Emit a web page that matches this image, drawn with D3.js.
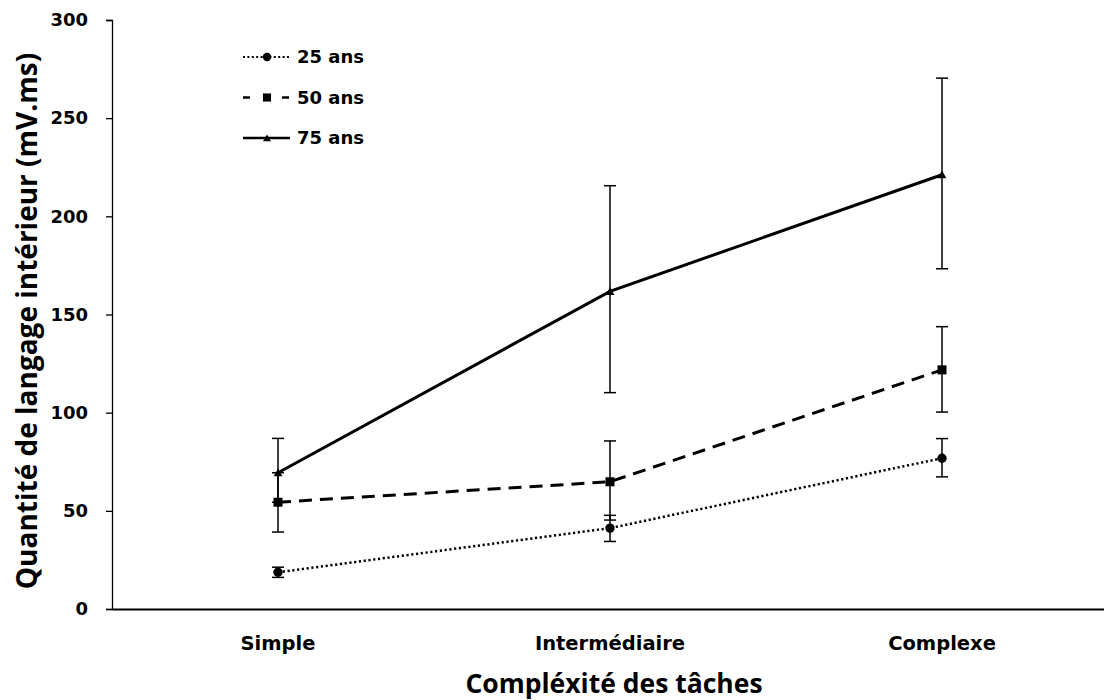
<!DOCTYPE html>
<html>
<head>
<meta charset="utf-8">
<script src="https://cdn.jsdelivr.net/npm/d3@7"></script>
<style>
  body { margin: 0; background: #fff; }
  svg text { font-family: "DejaVu Sans", sans-serif; font-weight: bold; fill: #000; }
</style>
</head>
<body>
<div id="chart"></div>
<script>
// data
var categories = ["Simple", "Intermédiaire", "Complexe"];
var seriesNames = ["25 ans", "50 ans", "75 ans"];
var mean25 = [18.7, 41.2, 76.8];
var mean50 = [54.4, 64.8, 121.8];
var mean75 = [69.4, 161.8, 221.2];
var errUp25 = [2.6, 6.5, 10.0];
var errDown25 = [2.6, 6.8, 9.5];
var errUp50 = [15.0, 20.8, 22.0];
var errDown50 = [15.2, 19.5, 21.5];
var errUp75 = [17.5, 53.8, 49.2];
var errDown75 = [15.0, 51.6, 47.9];
var yTicks = [0, 50, 100, 150, 200, 250, 300];

var series = [
  { name: seriesNames[0], mean: mean25, up: errUp25, down: errDown25, dash: "2.2,2.6", legendDash: "2,2.4", width: 2.5, marker: "circle" },
  { name: seriesNames[1], mean: mean50, up: errUp50, down: errDown50, dash: "13,8", legendDash: "7,32", width: 3, marker: "square" },
  { name: seriesNames[2], mean: mean75, up: errUp75, down: errDown75, dash: null, legendDash: null, width: 3, marker: "triangle" }
];

var margin = { top: 20, right: -4, bottom: 91, left: 112 };
var fullW = 1104, fullH = 700;
var width = fullW - margin.left - margin.right;
var height = fullH - margin.top - margin.bottom;

var svg = d3.select("#chart").append("svg")
  .attr("width", fullW)
  .attr("height", fullH)
  .append("g")
  .attr("transform", "translate(" + margin.left + "," + margin.top + ")");

var x = d3.scaleBand().domain(categories).range([0, width]);
var y = d3.scaleLinear().domain([0, 300]).range([height, 0]);

// y axis
var yAxis = d3.axisLeft(y).tickValues(yTicks).tickSize(6).tickPadding(18);
var gy = svg.append("g").attr("class", "y-axis").call(yAxis);
gy.attr("font-size", null).attr("font-family", null);
gy.select(".domain").attr("stroke", "#000").attr("stroke-width", 1.3);
gy.selectAll(".tick line").attr("stroke", "#000").attr("stroke-width", 1.3);
gy.selectAll("text").style("font-size", "18px");

// x axis
var xAxis = d3.axisBottom(x).tickSize(0).tickPadding(27);
var gx = svg.append("g").attr("class", "x-axis")
  .attr("transform", "translate(0," + height + ")")
  .call(xAxis);
gx.attr("font-size", null).attr("font-family", null);
gx.select(".domain").attr("stroke", "#000").attr("stroke-width", 2);
gx.selectAll("text").style("font-size", "19.5px");

function cx(i) { return x(categories[i]) + x.bandwidth() / 2; }

function drawMarker(g, type, px, py, scale) {
  scale = scale || 1;
  if (type === "circle") {
    g.append("circle").attr("cx", px).attr("cy", py).attr("r", 4.7 * scale).attr("fill", "#000");
  } else if (type === "square") {
    var s = 9 * scale;
    g.append("rect").attr("x", px - s / 2).attr("y", py - s / 2).attr("width", s).attr("height", s).attr("fill", "#000");
  } else {
    g.append("path")
      .attr("d", d3.symbol().type(d3.symbolTriangle).size(34 * scale * scale)())
      .attr("transform", "translate(" + px + "," + (py + 1) + ")")
      .attr("fill", "#000");
  }
}

var line = d3.line()
  .x(function(d, i) { return cx(i); })
  .y(function(d) { return y(d); });

series.forEach(function(s) {
  var g = svg.append("g").attr("class", "series");

  // error bars
  s.mean.forEach(function(m, i) {
    var px = cx(i);
    var top = y(m + s.up[i]), bot = y(m - s.down[i]);
    g.append("line").attr("x1", px).attr("x2", px).attr("y1", top).attr("y2", bot)
      .attr("stroke", "#000").attr("stroke-width", 1.5);
    [top, bot].forEach(function(yy) {
      g.append("line").attr("x1", px - 6).attr("x2", px + 6).attr("y1", yy).attr("y2", yy)
        .attr("stroke", "#000").attr("stroke-width", 1.5);
    });
  });

  g.append("path")
    .datum(s.mean)
    .attr("d", line)
    .attr("fill", "none")
    .attr("stroke", "#000")
    .attr("stroke-width", s.width)
    .attr("stroke-dasharray", s.dash);

  s.mean.forEach(function(m, i) {
    drawMarker(g, s.marker, cx(i), y(m));
  });
});

// legend
var legend = svg.append("g").attr("class", "legend")
  .attr("transform", "translate(" + (243 - margin.left) + "," + (57 - margin.top) + ")");
series.forEach(function(s, i) {
  var row = legend.append("g").attr("transform", "translate(0," + (i * 40.5) + ")");
  row.append("line").attr("x1", 0).attr("x2", 47).attr("y1", 0).attr("y2", 0)
    .attr("stroke", "#000").attr("stroke-width", s.width - 0.5)
    .attr("stroke-dasharray", s.legendDash);
  drawMarker(row, s.marker, 24, 0, 0.9);
  row.append("text").attr("x", 54).attr("y", 0).attr("dy", "0.36em")
    .style("font-size", "18px").text(s.name);
});

// axis titles
svg.append("text")
  .attr("x", width / 2 + 4)
  .attr("y", height + 84)
  .attr("text-anchor", "middle")
  .style("font-size", "26.5px")
  .style("font-family", "'Open Sans', sans-serif")
  .text("Compléxité des tâches");

svg.append("text")
  .attr("transform", "rotate(-90)")
  .attr("x", -301)
  .attr("y", -75)
  .attr("text-anchor", "middle")
  .style("font-size", "28px")
  .style("font-family", "'Open Sans', sans-serif")
  .text("Quantité de langage intérieur (mV.ms)");
</script>
</body>
</html>
